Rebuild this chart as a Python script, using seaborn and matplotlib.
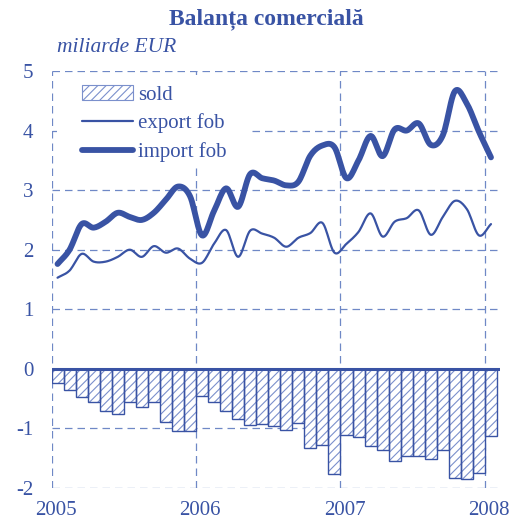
import numpy as np
import pandas as pd
import matplotlib
matplotlib.use("Agg")
import matplotlib.pyplot as plt
import seaborn as sns
from matplotlib.patches import Patch, Rectangle
from matplotlib.lines import Line2D

# Monthly data, Jan 2005 - Jan 2008 (miliarde EUR)
months = list(range(37))
year_labels = ["2005", "2006", "2007", "2008"]
export_fob = [1.53, 1.65, 1.93, 1.80, 1.80, 1.88, 2.00, 1.88, 2.06, 1.95, 2.02, 1.85,
              1.78, 2.10, 2.33, 1.88, 2.32, 2.27, 2.20, 2.05, 2.20, 2.28, 2.45, 1.95,
              2.10, 2.30, 2.61, 2.22, 2.47, 2.53, 2.66, 2.25, 2.55, 2.82, 2.68, 2.24, 2.43]
import_fob = [1.76, 2.00, 2.43, 2.37, 2.47, 2.62, 2.55, 2.50, 2.62, 2.84, 3.06, 2.90,
              2.24, 2.65, 3.03, 2.72, 3.27, 3.20, 3.16, 3.08, 3.14, 3.58, 3.75, 3.72,
              3.20, 3.50, 3.91, 3.57, 4.02, 4.00, 4.12, 3.76, 3.92, 4.66, 4.45, 3.98, 3.55]
sold = [-0.24, -0.35, -0.47, -0.56, -0.70, -0.75, -0.56, -0.64, -0.56, -0.89, -1.04, -1.04,
        -0.46, -0.55, -0.70, -0.84, -0.95, -0.92, -0.96, -1.03, -0.91, -1.32, -1.28, -1.77,
        -1.11, -1.15, -1.30, -1.36, -1.55, -1.47, -1.47, -1.51, -1.37, -1.83, -1.85, -1.75, -1.13]

BLUE = "#3953a4"
HATCH = "#7b90cc"
GRID = "#6f88c6"

sns.set_theme(style="white")
plt.rcParams["font.family"] = ["Liberation Serif", "DejaVu Serif"]
plt.rcParams["axes.unicode_minus"] = False
plt.rcParams["hatch.linewidth"] = 0.8


def smooth(xs, ys, n=12):
    # Catmull-Rom smoothing, like a spreadsheet "smoothed line"
    x = np.asarray(xs, float)
    y = np.asarray(ys, float)
    px = np.concatenate([[2 * x[0] - x[1]], x, [2 * x[-1] - x[-2]]])
    py = np.concatenate([[2 * y[0] - y[1]], y, [2 * y[-1] - y[-2]]])
    out_x, out_y = [], []
    t = np.linspace(0, 1, n, endpoint=False)
    for i in range(1, len(px) - 2):
        for arr, out in ((px, out_x), (py, out_y)):
            p0, p1, p2, p3 = arr[i - 1], arr[i], arr[i + 1], arr[i + 2]
            out.extend(0.5 * (2 * p1 + (-p0 + p2) * t
                              + (2 * p0 - 5 * p1 + 4 * p2 - p3) * t ** 2
                              + (-p0 + 3 * p1 - 3 * p2 + p3) * t ** 3))
    out_x.append(x[-1])
    out_y.append(y[-1])
    return np.array(out_x), np.array(out_y)


fig = plt.figure(figsize=(5.12, 5.20), dpi=100)
ax = fig.add_axes([0.1006, 0.0615, 0.876, 0.802])

df = pd.DataFrame({"luna": months, "sold": sold})
# hatch in a lighter blue, outline in the main blue
sns.barplot(data=df, x="luna", y="sold", color="white", edgecolor=HATCH,
            hatch="////", width=1.0, linewidth=0, saturation=1, ax=ax, zorder=2)
sns.barplot(data=df, x="luna", y="sold", fill=False, edgecolor=BLUE,
            width=1.0, linewidth=1.0, saturation=1, ax=ax, zorder=2)

ex, ey = smooth(months, export_fob)
ix, iy = smooth(months, import_fob)
sns.lineplot(x=ex, y=ey, sort=False, estimator=None, color=BLUE, linewidth=1.6, ax=ax, zorder=3)
sns.lineplot(x=ix, y=iy, sort=False, estimator=None, color=BLUE, linewidth=4.2, ax=ax, zorder=3)

# grid
for yv in range(-2, 6):
    ax.axhline(yv, color=GRID, lw=0.9, ls=(0, (6, 4)), zorder=0)
for k in range(4):
    ax.axvline(12 * k - 0.5, color=GRID, lw=0.9, ls=(0, (6, 4)), zorder=0)
ax.axhline(0, color=BLUE, lw=2.2, zorder=4)

ax.set_xlim(-0.5, 36.75)
ax.set_ylim(-2, 5)
for s in ax.spines.values():
    s.set_visible(False)

ax.set_xticks([12 * k - 0.15 for k in range(4)])
ax.set_xticklabels(year_labels)
ax.set_yticks(range(-2, 6))
ax.set_yticklabels([str(v) for v in range(-2, 6)])
ax.tick_params(axis="x", length=0, pad=9.5, labelsize=15, labelcolor=BLUE)
ax.tick_params(axis="y", length=0, pad=13, labelsize=15, labelcolor=BLUE)
ax.set_xlabel("")
ax.set_ylabel("")

# white box behind the legend hides the grid there
ax.add_patch(Rectangle((0.012, 0.77), 0.431, 0.22, transform=ax.transAxes,
                       facecolor="white", edgecolor="none", zorder=1))

handles = [Patch(facecolor="white", edgecolor=HATCH, hatch="////", lw=0.8),
           Line2D([], [], color=BLUE, lw=1.6),
           Line2D([], [], color=BLUE, lw=4.2)]
leg = ax.legend(handles, ["sold", "export fob", "import fob"], loc="upper left",
                bbox_to_anchor=(0.068, 0.967), borderaxespad=0, borderpad=0,
                frameon=False, fontsize=15, handlelength=2.45, handleheight=0.75,
                handletextpad=0.25, labelspacing=0.42, labelcolor=BLUE)
leg.set_zorder(5)

fig.text(0.52, 0.963, "Balanța comercială", ha="center", va="center",
         fontsize=17, fontweight="bold", color=BLUE)
fig.text(0.111, 0.908, "miliarde EUR", ha="left", va="center",
         fontsize=15.5, style="italic", color=BLUE)

fig.savefig("out.png", dpi=100)
